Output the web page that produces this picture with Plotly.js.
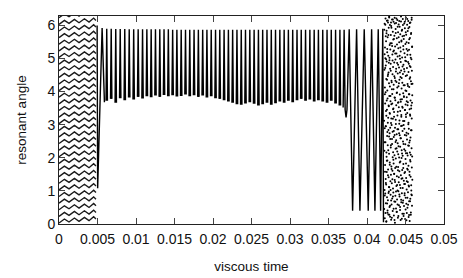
<!DOCTYPE html>
<html><head><meta charset="utf-8">
<script src="https://cdn.plot.ly/plotly-3.0.1.min.js"></script>
<style>html,body{margin:0;padding:0;background:#fff}#chart{width:463px;height:278px}</style>
</head><body><div id="chart"></div>
<script>
// ---- axis ticks ----
const xTickVals = [0,0.005,0.01,0.015,0.02,0.025,0.03,0.035,0.04,0.045,0.05];
const xTickText = ["0","0.005","0.01","0.015","0.02","0.025","0.03","0.035","0.04","0.045","0.05"];
const yTickVals = [0,1,2,3,4,5,6];

// ---- circulating phase (t < 0.0048): stacked wavy strands ----
const circLevels = [0.03,0.23,0.43,0.63,0.83,1.03,1.23,1.43,1.63,1.83,2.03,2.23,2.43,2.63,2.83,3.03,3.23,3.43,3.63,3.83,4.03,4.23,4.43,4.63,4.83,5.03,5.23,5.43,5.63,5.83,6.03,6.23];
const circT  = [0,0.0007,0.0013,0.0020,0.0026,0.0033,0.0039,0.0045,0.0048];
const circDy = [0,0.12,0.03,0.15,0.05,0.17,0.07,0.19,0.12];

// ---- capture into resonance ----
const entryT   = [0.00495,0.00502,0.00560,0.00590];
const entryPhi = [6.00,1.08,5.92,3.68];

// ---- libration: peak times, peak values, trough values ----
const peakT = [0.00620,0.00678,0.00737,0.00795,0.00854,0.00912,0.00970,0.01028,0.01085,0.01141,0.01197,
 0.01253,0.01309,0.01364,0.01420,0.01476,0.01531,0.01587,0.01643,0.01698,0.01754,0.01810,0.01866,0.01921,
 0.01977,0.02033,0.02088,0.02144,0.02200,0.02255,0.02311,0.02367,0.02422,0.02478,0.02534,0.02590,0.02645,
 0.02701,0.02757,0.02812,0.02868,0.02924,0.02979,0.03035,0.03091,0.03146,0.03202,0.03258,0.03314,0.03369,
 0.03425,0.03481,0.03536,0.03592,0.03648];
const peakPhi = [5.90,5.90,5.89,5.89,5.89,5.88,5.88,5.88,5.88,5.88,5.88,
 5.88,5.88,5.88,5.88,5.87,5.87,5.87,5.87,5.87,5.87,5.87,5.87,5.87,
 5.87,5.87,5.87,5.87,5.87,5.87,5.87,5.87,5.87,5.87,5.87,5.87,5.87,
 5.87,5.87,5.87,5.87,5.87,5.87,5.87,5.87,5.87,5.87,5.87,5.87,5.87,
 5.87,5.87,5.87,5.87,5.87];
const troughPhi = [3.72,3.78,3.66,3.80,3.74,3.82,3.76,3.84,3.79,3.86,3.83,
 3.88,3.84,3.90,3.86,3.89,3.85,3.87,3.91,3.86,3.89,3.84,3.88,3.82,
 3.86,3.80,3.78,3.74,3.70,3.66,3.62,3.60,3.64,3.68,3.63,3.58,3.62,
 3.66,3.60,3.65,3.70,3.66,3.72,3.68,3.74,3.78,3.72,3.76,3.70,3.74,
 3.70,3.66,3.72,3.64,3.58];

// ---- leaving resonance ----
const exitT   = [0.03690,0.03703,0.03716,0.03728,0.03740,0.03769,0.03813,0.03865,0.03908,0.03964,0.04016,0.04060,0.04103,0.04146,0.04177,0.04205,0.04214];
const exitPhi = [3.52,5.87,3.45,3.22,3.45,5.88,0.40,5.88,0.40,5.88,0.40,5.88,0.40,5.88,0.40,5.90,0.05];

// ---- chaotic phase samples (two sample sets) ----
const chaosStartA = 0.04222, chaosEndA = 0.04590;
const chaosPhiA = [
3.12,0.45,5.87,2.21,4.66,1.03,6.05,2.89,0.17,4.12,5.33,1.78,3.64,0.92,5.01,2.47,6.21,3.98,1.36,4.79,
0.63,2.95,5.52,1.19,4.38,3.27,0.08,5.76,2.03,4.91,1.57,6.14,3.45,0.81,2.66,5.19,4.03,1.92,0.34,3.79,
5.64,2.38,4.47,0.72,6.09,1.65,3.21,5.08,0.29,2.84,4.58,1.41,5.93,3.56,0.98,4.25,2.12,6.26,1.11,3.87,
4.95,0.51,2.74,5.41,1.86,3.33,6.01,0.22,4.69,2.57,5.27,1.29,3.71,0.88,4.84,2.31,5.71,1.49,3.05,0.13,
5.98,3.62,1.74,4.33,0.59,2.99,5.46,1.23,4.07,6.18,2.42,0.77,3.93,5.12,1.61,4.52,2.79,0.39,5.81,3.18,
1.07,4.74,2.17,5.57,0.95,3.49,6.11,1.83,4.21,2.63,0.26,5.24,3.38,1.52,4.88,0.68,5.69,2.08,3.82,6.23,
1.33,4.41,0.04,2.91,5.36,1.69,3.74,0.85,4.97,2.27,5.89,3.15,1.98,4.61,0.47,6.07,2.53,3.59,1.15,5.15,
4.29,0.36,2.71,5.61,1.44,3.97,0.74,4.86,2.19,6.16,3.28,1.01,5.06,2.44,4.55,0.19,3.66,5.79,1.72,2.86,
5.31,0.99,4.16,2.35,6.03,1.26,3.53,0.57,4.73,2.01,5.49,3.03,1.59,4.36,0.83,5.96,2.68,3.91,1.18,4.99,
0.42,3.41,5.73,1.89,4.44,2.59,0.12,5.21,3.69,1.47,6.12,2.96,4.64,0.66,3.24,5.54,1.37,4.09,2.23,5.84,
0.93,3.77,2.13,5.03,1.63,4.27,0.31,5.67,2.81,3.51,1.09,6.19,4.53,2.49,0.71,3.95,5.38,1.81,4.81,0.24,
2.99,5.59,1.31,3.86,0.54,4.68,2.26,6.06,3.11,1.54,5.16,0.87,4.19,2.69,5.91,1.21,3.44,0.15,4.93,2.41,
5.44,1.96,3.61,0.79,4.47,6.24,2.14,3.23,1.39,5.72,0.61,4.02,2.76,5.29,1.04,3.83,0.33,4.71,2.55,6.02,
1.67,3.35,5.11,0.49,4.23,2.07,5.83,1.27,3.68,0.96,4.89,2.37,6.13,3.01,1.76,4.59,0.21,5.47,2.88,3.92,
1.13,5.26,0.69,4.14,2.46,5.95,1.58,3.47,0.09,4.77,2.16,5.62,3.31,1.93,4.43,0.76,6.09,2.61,3.73,1.43,
5.02,0.28,4.31,2.83,5.77,1.17,3.58,0.89,4.98,2.29,6.17,3.19,1.71,4.63,0.55,5.35,2.04,3.89,1.34,4.24
];
const chaosStartB = 0.04227, chaosEndB = 0.04586;
const chaosPhiB = [
2.47,5.13,0.86,3.92,1.58,4.71,6.02,0.33,2.95,5.67,1.24,3.41,4.98,0.07,2.16,5.84,3.73,1.91,4.36,0.62,
5.29,2.78,0.41,6.15,3.06,1.47,4.52,2.23,5.71,0.94,3.58,4.87,1.12,2.64,6.24,0.28,5.02,3.35,1.79,4.15,
0.55,2.91,5.46,3.87,1.03,4.63,2.38,6.09,0.71,3.19,5.93,1.66,4.28,0.19,2.57,5.38,3.64,1.35,4.94,2.02,
6.18,0.83,3.47,5.21,1.94,4.07,0.46,2.81,5.59,3.24,1.51,4.46,0.12,2.69,6.06,3.81,1.27,5.15,0.67,4.33,
2.48,5.77,3.02,0.98,4.69,1.73,6.21,2.29,3.96,0.37,5.42,1.18,4.12,2.86,0.59,5.96,3.39,1.62,4.81,2.11,
0.24,3.68,5.64,1.41,4.25,2.74,6.13,0.89,3.13,5.08,1.86,4.58,0.51,2.33,5.33,3.76,1.09,4.89,2.59,6.27,
0.73,3.29,5.51,1.99,4.41,0.16,2.97,5.87,3.54,1.38,4.76,2.06,0.64,6.01,3.11,1.69,5.27,2.42,4.19,0.31,
3.84,5.69,1.21,2.88,4.61,0.93,6.11,3.44,1.57,5.04,2.21,4.03,0.44,5.79,3.31,1.83,4.92,2.67,0.11,5.49,
3.71,1.29,4.49,2.14,6.19,0.79,3.59,5.23,1.64,4.17,0.58,2.73,5.91,3.06,1.16,4.84,2.36,0.27,5.58,3.92,
1.48,4.39,6.07,2.52,0.69,3.27,5.11,1.89,4.74,2.09,0.35,5.74,3.49,1.01,4.23,2.83,6.23,0.87,3.66,5.36
];

// ---- build traces ----
const ink = '#000';
const traces = [];

// circulating strands
const cx = [], cy = [];
circLevels.forEach(L => {
  circT.forEach((t, i) => { cx.push(t); cy.push(L + circDy[i]); });
  cx.push(null); cy.push(null);
});
traces.push({x: cx, y: cy, mode: 'lines', line: {color: '#1a1a1a', width: 1.4}, hoverinfo: 'skip'});

// entry + libration spikes + exit
const halfW = 0.00009;
const lx = [...entryT, null], ly = [...entryPhi, null];
peakT.forEach((t, i) => {
  lx.push(t - halfW, t, t + halfW, null);
  ly.push(troughPhi[i], peakPhi[i], troughPhi[i], null);
});
lx.push(...exitT); ly.push(...exitPhi);
traces.push({x: lx, y: ly, mode: 'lines', line: {color: ink, width: 1.4}, connectgaps: false, hoverinfo: 'skip'});

// chaotic samples on their sampling time grids
function grid(arr, a, b) { return arr.map((_, i) => a + (b - a) * i / (arr.length - 1)); }
traces.push({x: grid(chaosPhiA, chaosStartA, chaosEndA), y: chaosPhiA, mode: 'markers', marker: {color: ink, size: 2, line: {width: 0}}, hoverinfo: 'skip'});
traces.push({x: grid(chaosPhiB, chaosStartB, chaosEndB), y: chaosPhiB, mode: 'markers', marker: {color: ink, size: 2, line: {width: 0}}, hoverinfo: 'skip'});

const tickFont = {family: 'Liberation Sans, Arial, Helvetica, sans-serif', size: 14, color: '#111'};
const titleFont = {family: 'Liberation Sans, Arial, Helvetica, sans-serif', size: 13.5, color: '#111'};
const layout = {
  width: 463, height: 278,
  margin: {l: 59, r: 19, t: 16, b: 54},
  paper_bgcolor: '#fff', plot_bgcolor: '#fff',
  showlegend: false,
  font: tickFont,
  xaxis: {
    range: [0, 0.05], tickvals: xTickVals, ticktext: xTickText,
    ticks: 'inside', ticklen: 6, tickcolor: '#444', tickwidth: 1,
    showline: true, linecolor: '#222', linewidth: 1, mirror: 'ticks',
    showgrid: false, zeroline: false, tickfont: tickFont, ticklabelstandoff: 2,
    title: {text: 'viscous time', font: titleFont, standoff: 15}
  },
  yaxis: {
    range: [0, 6.2832], tickvals: yTickVals,
    ticks: 'inside', ticklen: 6, tickcolor: '#444', tickwidth: 1,
    showline: true, linecolor: '#222', linewidth: 1, mirror: 'ticks',
    showgrid: false, zeroline: false, tickfont: tickFont,
    title: {text: 'resonant angle', font: titleFont, standoff: 17}
  }
};
Plotly.newPlot('chart', traces, layout, {staticPlot: true, displayModeBar: false});
</script></body></html>
